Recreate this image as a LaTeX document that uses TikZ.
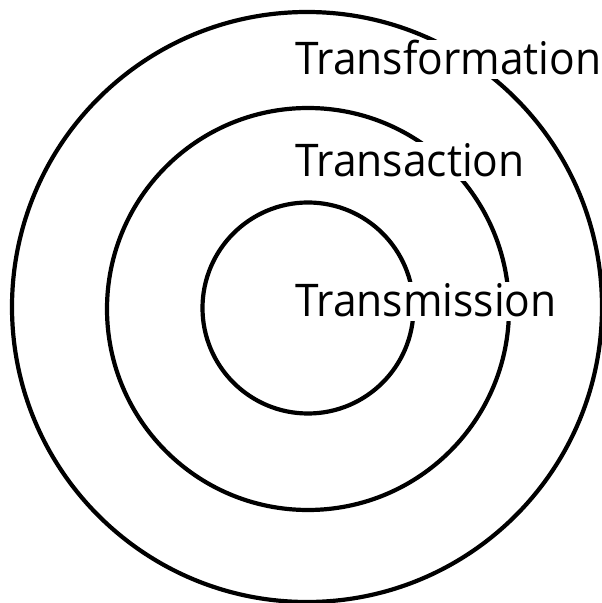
\documentclass[tikz,border=0pt]{standalone}
\usepackage{fontspec}
\setmainfont{Open Sans}[FakeStretch=0.945]
\begin{document}
\begin{tikzpicture}[x=1pt,y=1pt,
  ring/.style={draw=black, line width=4.2pt, circle, inner sep=0pt, fill=none},
  lab/.style={fill=white, inner xsep=1pt, inner ysep=0pt, text height=35pt, text depth=4pt,
    font=\fontsize{45}{50}\selectfont, anchor=base west}]
\useasboundingbox (0,0) rectangle (602,603);
\fill[white] (0,0) rectangle (602,603);
\coordinate (ctr) at (307,296);
\node[ring, minimum size=590pt] (outer) at (ctr) {};
\node[ring, minimum size=402pt] (middle) at (308,294) {};
\node[ring, minimum size=211pt] (inner) at (308,295) {};
\node[lab] (tf) at (294,528) {Transformation};
\node[lab] (ta) at (294,426) {Transaction};
\node[lab] (tm) at (294,286) {Transmission};
\end{tikzpicture}
\end{document}
